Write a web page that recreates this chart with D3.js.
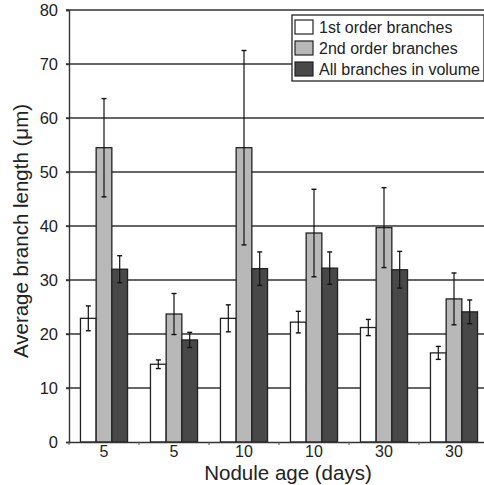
<html>
<head>
<script src="https://cdn.jsdelivr.net/npm/d3@7"></script>
<style>
  body { margin: 0; background: white; }
  text { font-family: "Liberation Sans", Arial, sans-serif; fill: #222; }
</style>
</head>
<body>
<svg id="chart" width="484" height="485"></svg>
<script>
    // nodule ages (x groups)
    let ages = ["5", "5", "10", "10", "30", "30"]
    let series = ["1st order branches", "2nd order branches", "All branches in volume"]
    let colors = ["#ffffff", "#b8b8b8", "#484848"]

    // mean branch length per group, one array per series
    let firstOrder = [22.9, 14.4, 22.9, 22.2, 21.2, 16.5]
    let secondOrder = [54.5, 23.7, 54.5, 38.7, 39.7, 26.5]
    let allBranches = [32.0, 18.9, 32.1, 32.2, 31.9, 24.1]

    // error bar half-widths
    let firstErr = [2.3, 0.8, 2.5, 2.0, 1.5, 1.2]
    let secondErr = [9.1, 3.8, 18.0, 8.1, 7.4, 4.8]
    let allErr = [2.5, 1.4, 3.1, 3.0, 3.4, 2.2]

    let yTicks = [0, 10, 20, 30, 40, 50, 60, 70, 80]

    let values = [firstOrder, secondOrder, allBranches]
    let errors = [firstErr, secondErr, allErr]

    let svg = d3.select("#chart")
    let plotLeft = 69, plotTop = 10, plotBottom = 442, plotRight = 489

    let x = d3.scaleBand()
        .domain(d3.range(ages.length))
        .range([plotLeft, plotRight])
        .padding(0)

    let xInner = d3.scaleBand()
        .domain(d3.range(series.length))
        .range([0, x.bandwidth()])
        .paddingInner(0)
        .paddingOuter(0.73)

    let y = d3.scaleLinear()
        .domain([0, 80])
        .range([plotBottom, plotTop])

    // gridlines
    svg.append("g").selectAll("line").data(yTicks.filter(d => d > 0))
        .enter().append("line")
        .attr("x1", plotLeft - 3).attr("x2", plotRight)
        .attr("y1", d => y(d)).attr("y2", d => y(d))
        .attr("stroke", "#333").attr("stroke-width", 1.4)

    // y axis
    let yAxis = svg.append("g")
        .attr("transform", `translate(${plotLeft},0)`)
        .call(d3.axisLeft(y).tickValues(yTicks).tickSize(3).tickPadding(8))
    yAxis.select(".domain").attr("stroke", "#333").attr("stroke-width", 1.4)
    yAxis.selectAll(".tick line").attr("stroke", "#333").attr("stroke-width", 1.4)
    yAxis.selectAll("text").style("font-size", "16.5px").attr("fill", "#222")

    // bars
    let rows = []
    ages.forEach((a, i) => {
        series.forEach((s, j) => {
            rows.push({ g: i, s: j, v: values[j][i], e: errors[j][i] })
        })
    })

    let bars = svg.append("g").selectAll("g").data(rows)
        .enter().append("g")

    bars.append("rect")
        .attr("x", d => x(d.g) + xInner(d.s))
        .attr("width", xInner.bandwidth())
        .attr("y", d => y(d.v))
        .attr("height", d => y(0) - y(d.v))
        .attr("fill", d => colors[d.s])
        .attr("stroke", "#222")
        .attr("stroke-width", 1.3)

    let cx = d => x(d.g) + xInner(d.s) + xInner.bandwidth() / 2
    bars.append("line")
        .attr("x1", cx).attr("x2", cx)
        .attr("y1", d => y(d.v + d.e)).attr("y2", d => y(d.v - d.e))
        .attr("stroke", "#111").attr("stroke-width", 1.2)
    bars.append("line")
        .attr("x1", d => cx(d) - 2.5).attr("x2", d => cx(d) + 2.5)
        .attr("y1", d => y(d.v + d.e)).attr("y2", d => y(d.v + d.e))
        .attr("stroke", "#111").attr("stroke-width", 1.4)
    bars.append("line")
        .attr("x1", d => cx(d) - 2.5).attr("x2", d => cx(d) + 2.5)
        .attr("y1", d => y(d.v - d.e)).attr("y2", d => y(d.v - d.e))
        .attr("stroke", "#111").attr("stroke-width", 1.4)

    // x axis
    let xAxis = svg.append("g")
        .attr("transform", `translate(0,${plotBottom})`)
        .call(d3.axisBottom(x).tickSize(0).tickPadding(4).tickFormat(i => ages[i]))
    xAxis.select(".domain").attr("stroke", "#333").attr("stroke-width", 1.4)
    xAxis.selectAll("text").style("font-size", "16px").attr("fill", "#222")

    // small tick marks between groups
    svg.append("g").selectAll("line").data(d3.range(ages.length + 1))
        .enter().append("line")
        .attr("x1", i => plotLeft + i * x.step()).attr("x2", i => plotLeft + i * x.step())
        .attr("y1", plotBottom).attr("y2", plotBottom + 3)
        .attr("stroke", "#555").attr("stroke-width", 1)

    // axis titles
    svg.append("text")
        .attr("x", 288).attr("y", 480)
        .attr("text-anchor", "middle")
        .style("font-size", "20.5px")
        .text("Nodule age (days)")

    svg.append("text")
        .attr("transform", "translate(28,231) rotate(-90)")
        .attr("text-anchor", "middle")
        .style("font-size", "20.5px")
        .text("Average branch length (\u03bcm)")

    // legend
    let legend = svg.append("g").attr("transform", "translate(292,15)")
    legend.append("rect")
        .attr("width", 192).attr("height", 66)
        .attr("fill", "white").attr("stroke", "#222").attr("stroke-width", 1.3)

    let items = legend.selectAll("g.item").data(series)
        .enter().append("g")
        .attr("transform", (d, i) => `translate(3,${5 + i * 21})`)
    items.append("rect")
        .attr("width", 18).attr("height", 14)
        .attr("fill", (d, i) => colors[i])
        .attr("stroke", "#222").attr("stroke-width", 1.2)
    items.append("text")
        .attr("x", 24).attr("y", 13)
        .style("font-size", "16px")
        .text(d => d)
</script>
</body>
</html>
